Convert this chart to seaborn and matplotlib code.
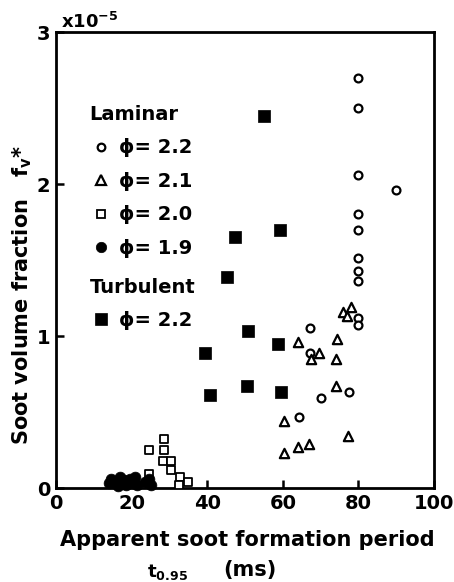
import matplotlib
matplotlib.use("Agg")
import matplotlib.pyplot as plt
import seaborn as sns
import pandas as pd
from matplotlib.lines import Line2D

# ---- data (t0.95 in ms, fv* in units of 1e-5) ----
lam22_x = [79.8, 80.0, 79.9, 89.9, 80.0, 80.0, 79.8, 79.8, 79.8, 80.0, 80.0, 67.2, 67.2, 77.4, 70.1, 64.4]
lam22_y = [2.70, 2.50, 2.06, 1.96, 1.80, 1.70, 1.51, 1.43, 1.36, 1.12, 1.07, 1.05, 0.89, 0.63, 0.59, 0.47]

lam21_x = [64.1, 74.3, 69.5, 67.5, 74.1, 74.0, 60.3, 77.3, 60.3, 64.0, 67.0, 76.0, 78.0, 77.1]
lam21_y = [0.96, 0.98, 0.89, 0.85, 0.85, 0.67, 0.44, 0.34, 0.23, 0.27, 0.29, 1.16, 1.19, 1.13]

lam20_x = [24.5, 28.5, 28.7, 28.3, 30.5, 30.5, 32.8, 35.0, 32.5, 24.5]
lam20_y = [0.25, 0.32, 0.25, 0.18, 0.18, 0.12, 0.07, 0.04, 0.02, 0.09]

lam19_x = [14.0, 14.5, 16.0, 17.0, 18.0, 18.5, 19.5, 20.0, 21.0, 23.5, 24.5, 25.0, 16.5, 21.5]
lam19_y = [0.03, 0.06, 0.04, 0.07, 0.05, 0.02, 0.06, 0.03, 0.07, 0.04, 0.06, 0.02, 0.01, 0.02]

turb22_x = [55.0, 47.3, 59.2, 45.2, 50.8, 58.8, 39.5, 40.8, 50.6, 59.6]
turb22_y = [2.45, 1.65, 1.70, 1.39, 1.03, 0.95, 0.89, 0.61, 0.67, 0.63]

series_labels = ["\u03d5= 2.2", "\u03d5= 2.1", "\u03d5= 2.0", "\u03d5= 1.9", "\u03d5= 2.2"]
x_ticks = [0, 20, 40, 60, 80, 100]
y_ticks = [0, 1, 2, 3]

sns.set_style("ticks")
plt.rcParams["font.family"] = ["DejaVu Sans"]
plt.rcParams["font.weight"] = "bold"
plt.rcParams["text.color"] = "black"
plt.rcParams["axes.labelcolor"] = "black"
plt.rcParams["xtick.color"] = "black"
plt.rcParams["ytick.color"] = "black"
plt.rcParams["mathtext.fontset"] = "custom"
plt.rcParams["mathtext.rm"] = "DejaVu Sans:bold"
plt.rcParams["mathtext.it"] = "DejaVu Sans:bold"
plt.rcParams["mathtext.bf"] = "DejaVu Sans:bold"

W, H = 454, 582
fig = plt.figure(figsize=(W / 100, H / 100), dpi=100)
ax = fig.add_axes([56 / W, 1 - 488 / H, (434 - 56) / W, (488 - 32) / H])

def df(x, y):
    return pd.DataFrame({"t": x, "fv": y})

sns.scatterplot(data=df(lam22_x, lam22_y), x="t", y="fv", ax=ax, marker="o", s=32,
                facecolor="white", edgecolor="black", linewidth=1.6, zorder=3)
sns.scatterplot(data=df(lam21_x, lam21_y), x="t", y="fv", ax=ax, marker="^", s=45,
                facecolor="white", edgecolor="black", linewidth=1.6, zorder=3)
sns.scatterplot(data=df(lam20_x, lam20_y), x="t", y="fv", ax=ax, marker="s", s=34,
                facecolor="white", edgecolor="black", linewidth=1.3, zorder=3)
sns.scatterplot(data=df(lam19_x, lam19_y), x="t", y="fv", ax=ax, marker="o", s=60,
                facecolor="black", edgecolor="black", linewidth=0.5, zorder=4, clip_on=False)
sns.scatterplot(data=df(turb22_x, turb22_y), x="t", y="fv", ax=ax, marker="s", s=70,
                facecolor="black", edgecolor="black", linewidth=0.5, zorder=3)

ax.set_xlim(0, 100)
ax.set_ylim(0, 3)
ax.set_xticks(x_ticks)
ax.set_yticks(y_ticks)
ax.set_xticklabels([str(v) for v in x_ticks], fontsize=14, fontweight="bold")
ax.set_yticklabels([str(v) for v in y_ticks], fontsize=14, fontweight="bold")
ax.tick_params(direction="in", length=6, width=1.8, pad=4, colors="black")
for sp in ax.spines.values():
    sp.set_visible(True)
    sp.set_linewidth(2.0)
    sp.set_color("black")
ax.set_xlabel("")
ax.set_ylabel("")

# axis labels
fig.text(247 / W, 1 - 540 / H, "Apparent soot formation period", ha="center", va="center",
         fontsize=15, fontweight="bold")
fig.text(168 / W, 1 - 572 / H, "t$_{0.95}$", ha="center", va="center", fontsize=13, fontweight="bold")
fig.text(250 / W, 1 - 570 / H, "(ms)", ha="center", va="center", fontsize=15, fontweight="bold")
fig.text(22 / W, 1 - 295 / H, "Soot volume fraction   f$_{v}$*", ha="center", va="center",
         rotation=90, fontsize=15, fontweight="bold")
fig.text(61 / W, 1 - 22 / H, "x10$^{-5}$", ha="left", va="center", fontsize=13, fontweight="bold")

# legends
mk = dict(linestyle="none", markeredgecolor="black")
lam_handles = [
    Line2D([], [], marker="o", markersize=5.5, markerfacecolor="white", markeredgewidth=1.6, **mk),
    Line2D([], [], marker="^", markersize=6.5, markerfacecolor="white", markeredgewidth=1.6, **mk),
    Line2D([], [], marker="s", markersize=5.5, markerfacecolor="white", markeredgewidth=1.3, **mk),
    Line2D([], [], marker="o", markersize=7.5, markerfacecolor="black", markeredgewidth=0.5, **mk),
]
turb_handles = [
    Line2D([], [], marker="s", markersize=8, markerfacecolor="black", markeredgewidth=0.5, **mk),
]
leg_kw = dict(frameon=False, handlelength=1.2, handletextpad=0.3, borderpad=0, labelspacing=0.75,
              alignment="left", labelcolor="black", prop={"size": 14, "weight": "bold"})
leg1 = ax.legend(lam_handles, series_labels[:4], loc="upper left",
                 bbox_to_anchor=(80 / W, 1 - 95 / H), bbox_transform=fig.transFigure,
                 title="Laminar", title_fontproperties={"size": 14, "weight": "bold"}, **leg_kw)
leg1.get_title().set_color("black")
ax.add_artist(leg1)
leg2 = ax.legend(turb_handles, series_labels[4:], loc="upper left",
                 bbox_to_anchor=(80 / W, 1 - 268 / H), bbox_transform=fig.transFigure,
                 title="Turbulent", title_fontproperties={"size": 14, "weight": "bold"}, **leg_kw)
leg2.get_title().set_color("black")

fig.savefig("out.png", dpi=100)
